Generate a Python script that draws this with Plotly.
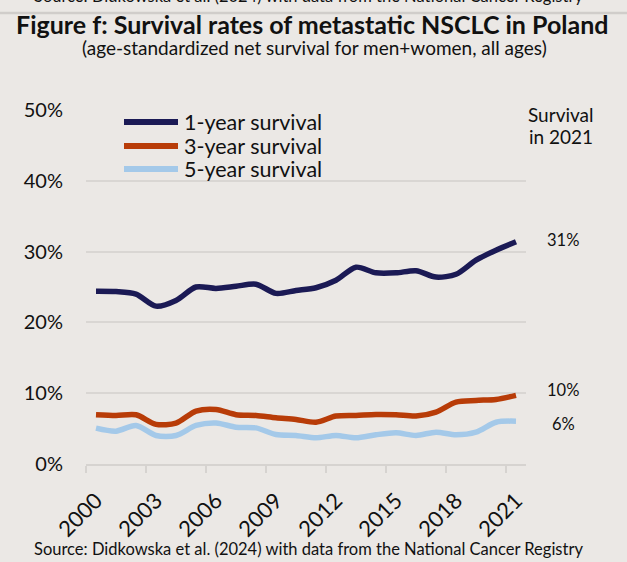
import plotly.graph_objects as go

years = list(range(2000, 2022))
one_year = [24.4, 24.35, 24.0, 22.3, 23.1, 25.0, 24.8, 25.1, 25.4, 24.1, 24.5,
            24.9, 25.95, 27.8, 27.0, 27.0, 27.3, 26.4, 26.8, 28.8, 30.2, 31.4]
three_year = [6.96, 6.86, 6.96, 5.6, 5.77, 7.47, 7.7, 6.96, 6.86, 6.53, 6.3,
              5.9, 6.77, 6.86, 7.0, 6.96, 6.77, 7.33, 8.75, 8.98, 9.12, 9.69]
five_year = [5.07, 4.64, 5.44, 4.03, 4.03, 5.44, 5.8, 5.2, 5.1, 4.17, 4.03,
             3.7, 4.03, 3.7, 4.13, 4.41, 4.03, 4.5, 4.13, 4.5, 5.9, 6.05]
series_names = ["1-year survival", "3-year survival", "5-year survival"]
series_colors = ["#1B1A55", "#B83C08", "#A4C9E9"]
y_ticks = [0, 10, 20, 30, 40, 50]
x_ticks = list(range(2000, 2022, 3))

title = "Figure f: Survival rates of metastatic NSCLC in Poland"
subtitle = "(age-standardized net survival for men+women, all ages)"
source = "Source: Didkowska et al. (2024) with data from the National Cancer Registry"
right_header = ["Survival", "in 2021"]

W, H = 627, 562
L, R, T, B = 86, 101, 110, 98
PW, PH = W - L - R, H - T - B
BG = "#EBE8E5"
FONT = "Lato"
TXT = "#111111"


def px_x(px):
    return (px - L) / PW


def px_y(py):
    return (H - B - py) / PH


fig = go.Figure()
all_series = [one_year, three_year, five_year]
for name, vals, col in zip(series_names, all_series, series_colors):
    fig.add_trace(go.Scatter(x=years, y=vals, name=name, mode="lines",
                             line=dict(color=col, width=5.5, shape="spline", smoothing=0.8)))

fig.update_layout(
    width=W, height=H,
    margin=dict(l=L, r=R, t=T, b=B, autoexpand=False),
    paper_bgcolor=BG, plot_bgcolor=BG,
    font=dict(family=FONT, color=TXT),
    showlegend=False,
    xaxis=dict(range=[1999.5, 2021.5], tickmode="array", tickvals=x_ticks,
               ticktext=[str(v) for v in x_ticks], tickangle=-45,
               tickfont=dict(size=22, color=TXT), ticks="",
               showgrid=False, zeroline=False,
               showline=True, linecolor="#D6D3D0", linewidth=2,
               ticklabelstandoff=13,
               minor=dict(tick0=1999.5, dtick=3, ticks="outside", ticklen=7,
                          tickcolor="#D6D3D0", tickwidth=2, showgrid=False)),
    yaxis=dict(range=[0, 50], tickvals=y_ticks, ticktext=[f"{v}%" for v in y_ticks],
               tickfont=dict(size=20, color=TXT), showgrid=True,
               gridcolor="#D9D6D3", gridwidth=2, zeroline=False, ticks="",
               ticklabelstandoff=22),
)

# manual legend (swatch + label)
legend_rows = [122, 146, 169]
for name, col, ry in zip(series_names, series_colors, legend_rows):
    fig.add_shape(type="line", xref="paper", yref="paper",
                  x0=px_x(124), x1=px_x(178), y0=px_y(ry), y1=px_y(ry),
                  line=dict(color=col, width=6))
    fig.add_annotation(xref="paper", yref="paper", x=px_x(182), y=px_y(ry),
                       text=name, showarrow=False, xanchor="left", yanchor="middle",
                       font=dict(size=21.5, color=TXT))

# title block
fig.add_annotation(xref="paper", yref="paper", x=px_x(312), y=px_y(24),
                   text=f"<b>{title}</b>", showarrow=False, xanchor="center", yanchor="middle",
                   font=dict(size=25, color=TXT))
fig.add_annotation(xref="paper", yref="paper", x=px_x(314), y=px_y(48),
                   text=subtitle, showarrow=False, xanchor="center", yanchor="middle",
                   font=dict(size=19, color=TXT))
# source (bottom) and the cut-off copy at the top
fig.add_annotation(xref="paper", yref="paper", x=px_x(308), y=px_y(549),
                   text=source, showarrow=False, xanchor="center", yanchor="middle",
                   font=dict(size=16.5, color=TXT))
fig.add_annotation(xref="paper", yref="paper", x=px_x(308), y=px_y(-4),
                   text=source, showarrow=False, xanchor="center", yanchor="middle",
                   font=dict(size=16.5, color=TXT))
fig.add_shape(type="line", xref="paper", yref="paper", x0=px_x(0), x1=px_x(W),
              y0=px_y(13), y1=px_y(13), line=dict(color="#D0CDCA", width=2.5))

# right-hand labels
for txt, ry in zip(right_header, [114, 136]):
    fig.add_annotation(xref="paper", yref="paper", x=px_x(561), y=px_y(ry),
                       text=txt, showarrow=False, xanchor="center", yanchor="middle",
                       font=dict(size=19, color=TXT))
label_y = [31.6, 10.5, 5.6]
for vals, ly in zip(all_series, label_y):
    fig.add_annotation(xref="paper", yref="y", x=px_x(563), y=ly,
                       text=f"{round(vals[-1])}%", showarrow=False,
                       xanchor="center", yanchor="middle", font=dict(size=16.5, color=TXT))

fig.write_html("out.html",
               config={"displayModeBar": False},
               post_script="document.body.style.margin='0px';"
                           "document.body.style.overflow='hidden';"
                           f"document.body.style.background='{BG}';")
